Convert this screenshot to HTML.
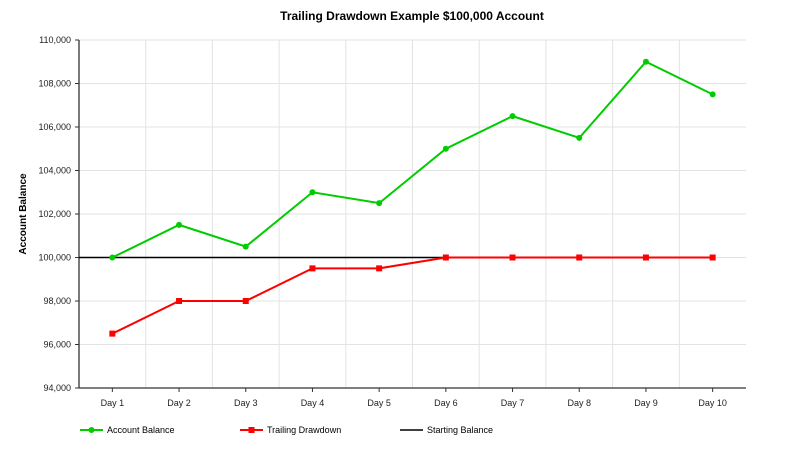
<!DOCTYPE html>
<html><head><meta charset="utf-8"><style>
body{margin:0;background:#fff;width:794px;height:448px;overflow:hidden}
text{font-family:"Liberation Sans","DejaVu Sans",sans-serif}
</style></head><body>
<svg id="c" width="794" height="448" xmlns="http://www.w3.org/2000/svg">
<text x="412" y="20" text-anchor="middle" font-size="12" font-weight="bold">Trailing Drawdown Example $100,000 Account</text>
<text transform="translate(26,214) rotate(-90)" text-anchor="middle" font-size="10" font-weight="bold">Account Balance</text>
<g id="grid"></g><g id="axes"></g><g id="series"></g>
<g>
<g><line x1="80" y1="430" x2="103" y2="430" stroke="#00cc00" stroke-width="2"/><circle cx="91.5" cy="430" r="3" fill="#00cc00"/><text x="107" y="433" font-size="9">Account Balance</text></g>
<g><line x1="240" y1="430" x2="263" y2="430" stroke="#ff0000" stroke-width="2"/><rect x="248.5" y="427" width="6" height="6" fill="#ff0000"/><text x="267" y="433" font-size="9">Trailing Drawdown</text></g>
<g><line x1="400" y1="430" x2="423" y2="430" stroke="#000" stroke-width="1.5"/><text x="427" y="433" font-size="9">Starting Balance</text></g>
</g>
</svg>
<script>
const categories=["Day 1","Day 2","Day 3","Day 4","Day 5","Day 6","Day 7","Day 8","Day 9","Day 10"];
const accountBalance=[100000,101500,100500,103000,102500,105000,106500,105500,109000,107500];
const trailingDrawdown=[96500,98000,98000,99500,99500,100000,100000,100000,100000,100000];
const startingBalance=100000;
const yTicks=[94000,96000,98000,100000,102000,104000,106000,108000,110000];
const NS="http://www.w3.org/2000/svg";
const L=79,R=746,T=40,B=388,yMin=94000,yMax=110000;
const bw=(R-L)/categories.length;
const x=i=>L+bw*(i+0.5);
const y=v=>B-(v-yMin)/(yMax-yMin)*(B-T);
function mk(tag,a,p){const e=document.createElementNS(NS,tag);for(const k in a)e.setAttribute(k,a[k]);p.appendChild(e);return e;}
const grid=document.getElementById('grid'),axes=document.getElementById('axes'),ser=document.getElementById('series');
yTicks.forEach(v=>{
const g=mk('line',{x1:L,x2:R,y1:y(v),y2:y(v),stroke:'#e3e3e3','stroke-width':1},grid);


mk('line',{x1:L-4,x2:L,y1:y(v),y2:y(v),stroke:'#333'},axes);
const t=mk('text',{x:L-8,y:y(v)+3,'text-anchor':'end','font-size':9,fill:'#222'},axes);
t.textContent=v.toLocaleString('en-US');


});
for(let i=1;i<categories.length;i++){
const g=mk('line',{x1:L+bw*i,x2:L+bw*i,y1:T,y2:B,stroke:'#e3e3e3'},grid);


}
categories.forEach((c,i)=>{
mk('line',{x1:x(i),x2:x(i),y1:B,y2:B+4,stroke:'#333'},axes);
const t=mk('text',{x:x(i),y:B+18,'text-anchor':'middle','font-size':9,fill:'#222'},axes);
t.textContent=c;


});
const ya=mk('line',{x1:L,x2:L,y1:T,y2:B,stroke:'#333','stroke-width':1.3},axes);


const xa=mk('line',{x1:L,x2:R,y1:B,y2:B,stroke:'#333','stroke-width':1.3},axes);


const sb=mk('line',{x1:L,x2:x(5),y1:y(startingBalance),y2:y(startingBalance),stroke:'#000','stroke-width':1.5},ser);


const p1=mk('polyline',{points:accountBalance.map((v,i)=>x(i)+','+y(v)).join(' '),fill:'none',stroke:'#00cc00','stroke-width':2},ser);


const p2=mk('polyline',{points:trailingDrawdown.map((v,i)=>x(i)+','+y(v)).join(' '),fill:'none',stroke:'#ff0000','stroke-width':2},ser);


accountBalance.forEach((v,i)=>{
const c=mk('circle',{cx:x(i),cy:y(v),r:3,fill:'#00cc00'},ser);


});
trailingDrawdown.forEach((v,i)=>{
const r=mk('rect',{x:x(i)-3,y:y(v)-3,width:6,height:6,fill:'#ff0000'},ser);


});
</script>
</body></html>
